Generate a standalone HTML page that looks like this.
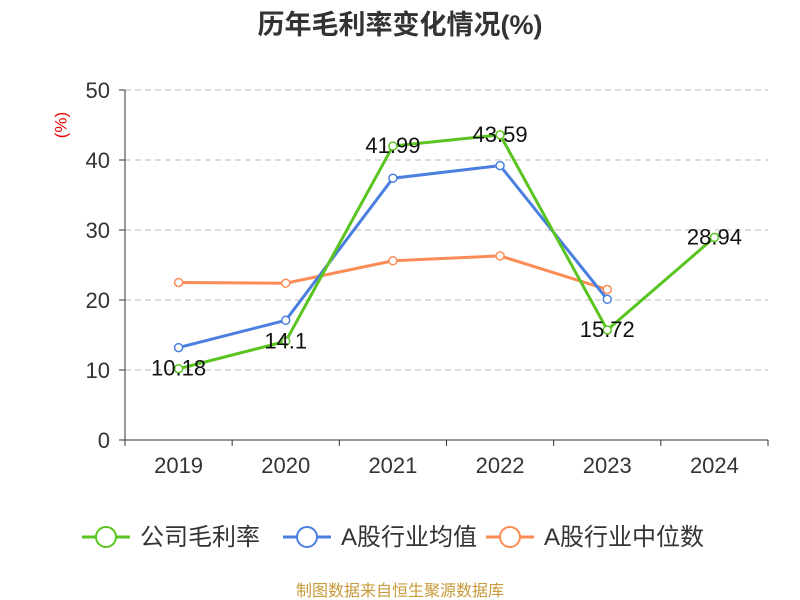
<!DOCTYPE html>
<html><head><meta charset="utf-8"><style>
body{margin:0;background:#fff;}
svg{display:block;font-family:"Liberation Sans","Noto Sans CJK SC",sans-serif;}
</style></head><body>
<svg id="chart" width="800" height="600">
<text x="400" y="34" text-anchor="middle" font-size="27" font-weight="bold" fill="#333">历年毛利率变化情况(%)</text>
<text x="62" y="125" text-anchor="middle" font-size="17" fill="#e00" dominant-baseline="middle" transform="rotate(-90 62 125)">(%)</text>
<g id="grid"></g><g id="axes"></g><g id="series"></g>
<g id="legend"></g>
<text x="400" y="596" text-anchor="middle" font-size="16" fill="#c89a3a">制图数据来自恒生聚源数据库</text>
</svg>
<script>
const categories=["2019","2020","2021","2022","2023","2024"];
const companyValues=[10.18,14.1,41.99,43.59,15.72,28.94];
const industryAvg=[13.2,17.1,37.4,39.2,20.1,null];
const industryMedian=[22.5,22.4,25.6,26.3,21.5,null];
const yTicks=[0,10,20,30,40,50];
const NS="http://www.w3.org/2000/svg";
const x0=125,x1=768,y0=440,y1=90,yMax=50;
const band=(x1-x0)/categories.length;
const xs=i=>x0+band*(i+0.5);
const ys=v=>y0-(v/yMax)*(y0-y1);
function mk(tag,attrs,parent){const e=document.createElementNS(NS,tag);for(const k in attrs)e.setAttribute(k,attrs[k]);parent.appendChild(e);return e;}
const grid=document.getElementById('grid'),axes=document.getElementById('axes'),ser=document.getElementById('series');
yTicks.forEach(t=>{
 const y=ys(t);
 if(t>0){const g=mk('line',{x1:x0,x2:x1,y1:y,y2:y,stroke:'#bbb','stroke-dasharray':'6,4'},grid);
 
 }
 const tk=mk('line',{x1:x0-6,x2:x0,y1:y,y2:y,stroke:'#333'},axes);
 
 
 const lb=mk('text',{x:x0-15,y:y+8,'text-anchor':'end','font-size':22,fill:'#333'},axes);lb.textContent=t;
 
 
});
const ya=mk('line',{x1:x0,x2:x0,y1:y1,y2:y0,stroke:'#333'},axes);


const xa=mk('line',{x1:x0,x2:x1,y1:y0,y2:y0,stroke:'#333'},axes);


for(let i=0;i<=categories.length;i++){const t=mk('line',{x1:x0+band*i,x2:x0+band*i,y1:y0,y2:y0+6,stroke:'#333'},axes);
 
 }
categories.forEach((c,i)=>{const t=mk('text',{x:xs(i),y:y0+33,'text-anchor':'middle','font-size':22,fill:'#333'},axes);t.textContent=c;
 
 });
function drawSeries(vals,color,name,labels){
 const g=mk('g',{},ser);
 
 
 const pts=[];vals.forEach((v,i)=>{if(v!=null)pts.push([xs(i),ys(v),v]);});
 const p=mk('polyline',{points:pts.map(q=>q[0]+','+q[1]).join(' '),fill:'none',stroke:color,'stroke-width':3},g);
 
 
 pts.forEach(q=>{const c=mk('circle',{cx:q[0],cy:q[1],r:4,fill:'#fff',stroke:color,'stroke-width':1.5},g);
  
  
  if(labels){const t=mk('text',{x:q[0],y:q[1]+7,'text-anchor':'middle','font-size':22,fill:'#111'},g);t.textContent=q[2];
   
   }});
}
drawSeries(industryMedian,'#fb8c55','industry-median-series',false);
drawSeries(industryAvg,'#4a7fe0','industry-average-series',false);
drawSeries(companyValues,'#5ac421','company-series',true);
const leg=document.getElementById('legend');
const items=[["公司毛利率","#5ac421",82],["A股行业均值","#4a7fe0",283],["A股行业中位数","#fb8c55",486]];
items.forEach(it=>{
 const g=mk('g',{},leg);
 
 
 mk('line',{x1:it[2],x2:it[2]+48,y1:537,y2:537,stroke:it[1],'stroke-width':3},g);
 mk('circle',{cx:it[2]+24,cy:537,r:10,fill:'#fff',stroke:it[1],'stroke-width':2},g);
 const t=mk('text',{x:it[2]+58,y:545,'font-size':24,fill:'#333'},g);t.textContent=it[0];
});
</script>
</body></html>
